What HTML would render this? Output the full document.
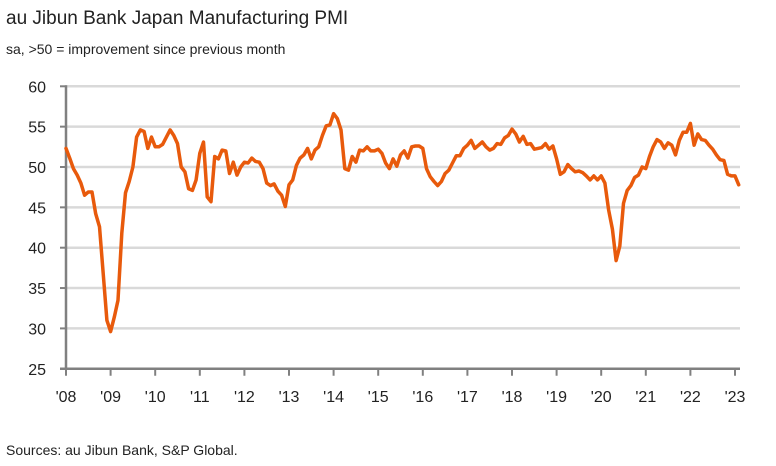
<!DOCTYPE html>
<html><head><meta charset="utf-8"><style>
body{margin:0;background:#fff;font-family:"Liberation Sans",sans-serif;}
#wrap{position:relative;width:776px;height:466px;overflow:hidden}
</style></head><body>
<div id="wrap">
<svg id="svg" width="776" height="466" xmlns="http://www.w3.org/2000/svg">
<text x="6" y="24" font-size="19" fill="#222">au Jibun Bank Japan Manufacturing PMI</text>
<text x="6" y="54" font-size="14" fill="#222">sa, &gt;50 = improvement since previous month</text>
<text x="6" y="455" font-size="14" fill="#222">Sources: au Jibun Bank, S&amp;P Global.</text>
<g id="grid"></g><g id="axes"></g><g id="series"></g>
</svg>
</div>
<script>
const yTicks=[25,30,35,40,45,50,55,60];
const xTickLabels=["'08","'09","'10","'11","'12","'13","'14","'15","'16","'17","'18","'19","'20","'21","'22","'23"];
const pmi=[52.3,51.1,49.8,49.0,48.0,46.5,46.9,46.9,44.2,42.6,36.8,31.0,29.6,31.4,33.5,41.8,46.8,48.2,50.0,53.7,54.6,54.4,52.3,53.7,
52.5,52.5,52.8,53.7,54.6,53.9,52.9,50.0,49.4,47.3,47.1,48.4,51.7,53.1,46.3,45.7,51.3,51.0,52.1,52.0,49.2,50.6,49.0,50.0,
50.6,50.5,51.1,50.7,50.6,49.8,48.0,47.7,47.9,47.0,46.5,45.1,47.8,48.4,50.2,51.1,51.5,52.3,51.0,52.1,52.5,53.9,55.1,55.2,
56.6,56.0,54.6,49.8,49.6,51.3,50.6,52.1,52.0,52.5,52.0,52.0,52.2,51.7,50.5,49.8,51.0,50.1,51.5,52.0,51.1,52.5,52.6,52.6,
52.3,49.8,48.8,48.2,47.7,48.2,49.2,49.6,50.5,51.4,51.4,52.3,52.7,53.3,52.3,52.7,53.1,52.5,52.1,52.3,52.9,52.8,53.6,53.9,
54.7,54.1,53.1,53.8,52.8,52.9,52.2,52.3,52.4,52.9,52.2,52.6,51.0,49.1,49.4,50.3,49.8,49.4,49.5,49.3,48.9,48.4,48.9,48.4,
48.9,48.0,44.7,42.3,38.4,40.2,45.5,47.1,47.7,48.7,49.0,50.0,49.8,51.3,52.5,53.4,53.1,52.3,53.0,52.7,51.5,53.3,54.3,54.3,
55.4,52.7,54.1,53.4,53.3,52.7,52.2,51.5,50.9,50.8,49.1,48.9,48.9,47.8];
const NS="http://www.w3.org/2000/svg";
const x0=66,yearW=44.6,yTop=86.3,pxPer=8.07;
function xScale(i){return x0+i*yearW/12;}
function yScale(v){return yTop+(60-v)*pxPer;}
function mk(tag,attrs,parent){const e=document.createElementNS(NS,tag);for(const k in attrs)e.setAttribute(k,attrs[k]);parent.appendChild(e);return e;}
const grid=document.getElementById('grid'),axes=document.getElementById('axes'),series=document.getElementById('series');
yTicks.forEach(v=>{
  const y=yScale(v);
  if(v>25){const l=mk('line',{x1:x0,x2:740,y1:y,y2:y,stroke:'#d9d9d9','stroke-width':2.5},grid);
  
  }
  const t=mk('line',{x1:x0-6,x2:x0,y1:y,y2:y,stroke:'#808080','stroke-width':2},axes);
  
  
  const tx=mk('text',{x:46,y:y+6,'font-size':16,'text-anchor':'end',fill:'#222'},axes);
  tx.textContent=v;
  
  
});
const ya=mk('line',{x1:x0,x2:x0,y1:yScale(60)-1,y2:yScale(25)+1,stroke:'#808080','stroke-width':2.5},axes);


const xa=mk('line',{x1:x0-6,x2:740,y1:yScale(25),y2:yScale(25),stroke:'#808080','stroke-width':2.5},axes);


xTickLabels.forEach((lab,k)=>{
  const x=xScale(k*12);
  const t=mk('line',{x1:x,x2:x,y1:yScale(25),y2:yScale(25)+7,stroke:'#808080','stroke-width':2},axes);
  
  
  const tx=mk('text',{x:x,y:402,'font-size':16,'text-anchor':'middle',fill:'#222'},axes);
  tx.textContent=lab;
  
  
});
const d=pmi.map((v,i)=>(i?'L':'M')+xScale(i).toFixed(1)+' '+yScale(v).toFixed(1)).join(' ');
const p=mk('path',{d:d,fill:'none',stroke:'#e85a0c','stroke-width':3.5,'stroke-linejoin':'round','stroke-linecap':'round'},series);


</script>
</body></html>
